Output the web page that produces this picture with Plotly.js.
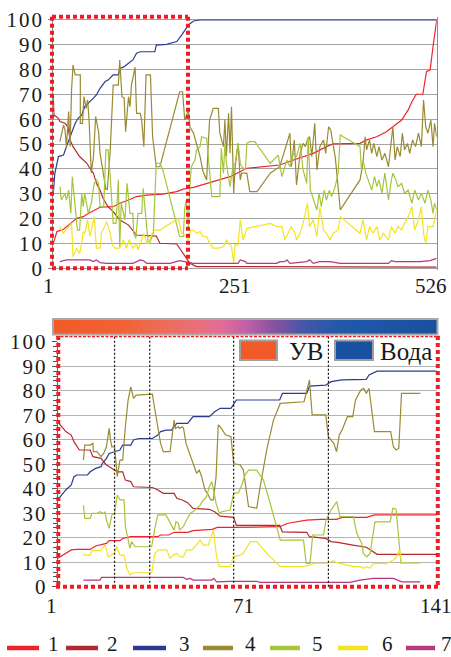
<!DOCTYPE html>
<html><head><meta charset="utf-8">
<script src="https://cdn.plot.ly/plotly-3.0.1.min.js"></script>
<style>html,body{margin:0;padding:0;background:#fff;overflow:hidden}#chart{width:451px;height:657px}
.ytick text,.y2tick text{letter-spacing:2px}</style>
</head><body><div id="chart"></div>
<script>
// ---------- DATA: top chart (samples 1..526) ----------
const topTickVals = [1, 251, 526];
const topTickText = ['1', '251', '526'];
const t1x = [1,6,15,19,26,33,42,49,58,65,83,92,104,115,129,151,170,179,193,211,229,243,266,289,311,330,357,375,384,421,430,444,457,466,478,487,492,498,507,512,517,521,523,526];
const t1y = [10.1,14.8,15.7,16.8,18.4,20.1,20.8,22.1,23.5,24.6,24.8,26.2,27.5,28.9,29.5,29.9,30.9,31.9,32.6,34.2,35.6,36.9,40.3,40.9,41.6,43.6,46.3,49,50.1,50.3,51.7,53,55,57,59.7,63.8,67.1,70.1,70.1,79.2,79.9,89.3,94.6,100];
const t2x = [1,2,8,10,17,21,24,28,37,47,51,56,60,65,69,76,83,92,104,110,115,142,147,170,174,181,188,197,526];
const t2y = [69.1,61.7,60.4,59.1,58.4,57,51.7,49,45,42.3,40.3,38.3,34.2,31.5,28.2,24.8,22.8,19.5,17.4,15.4,13.4,13,10.1,9.8,8.1,4.7,2,0.7,0.5];
const t3x = [1,3,8,15,19,26,31,35,40,44,49,56,60,65,72,76,83,90,92,97,104,110,115,120,140,142,156,170,177,181,186,193,202,526];
const t3y = [30,38,45,45.6,49,54.4,58.4,60.4,61.7,65.1,66.4,68.5,69.8,72.5,75.2,75.8,77.9,77.9,80.5,81,82.6,83.9,86.6,87.2,87.2,89.9,90.2,91.3,94,96,98,99.6,100,100];
const t4x = [10,15,17,19,22,24,26,28,31,38,38,41,43,46,48,50,53,56,59,63,65,69,73,75,79,83,90,92,95,98,100,104,106,108,113,115,120,122,125,128,134,137,142,147,174,178,181,186,188,193,197,202,206,211,213,215,220,227,229,234,236,238,241,243,245,248,250,254,257,259,266,270,280,298,311,321,325,327,331,334,339,343,346,349,352,355,359,362,366,371,374,378,381,383,387,394,421,425,428,430,434,437,440,444,447,451,455,460,464,466,469,472,476,479,482,486,489,493,497,501,505,508,511,514,518,521,523,526];
const t4y = [51,57.7,55.7,49,63.1,49,71.8,81.9,77.9,77.9,58.4,58.4,69.1,64.4,67.8,59.7,38.3,45,61.1,55,46.3,39.6,31.8,31.8,47.7,73.8,73.8,83.9,69.1,68.5,55,69.1,65.1,73.8,81,62.4,62.4,59.7,49,77.9,77.9,53,40.9,40.9,71.1,71.1,59.7,63.8,57,54.4,50.3,45,39,35.6,49,59.7,64.4,64.4,54.4,49,59.7,45,62.4,46.3,65.1,30.2,40.9,50.3,35.6,38.3,38.3,30.9,30.9,38.3,40.9,50.3,54.4,40.9,51.7,33.6,46.3,50.3,49,51.7,53,45,58.4,39.6,49,51.7,46.3,57,55.7,51.7,45,23.5,35.6,42.3,53,47.7,51.7,46.3,50.3,45,49,43.6,46.3,40.9,50.3,57,43.6,49,45,54.4,47.7,50.3,46.3,51.7,49,54.4,49,67.8,57,54.4,59.7,49,58.4,53];
const t5x = [10,12,17,19,22,25,27,29,32,34,37,40,42,44,49,53,57,60,63,65,70,73,76,79,83,87,90,92,94,99,102,106,110,111,114,117,122,124,128,131,133,138,142,147,151,174,179,181,183,186,188,190,195,197,202,204,211,215,218,229,231,234,236,238,243,247,250,254,257,259,264,266,270,277,298,309,314,321,325,330,334,339,343,348,350,353,357,362,365,368,372,375,379,382,387,391,394,421,423,425,429,432,437,441,444,447,451,455,460,464,466,470,473,478,482,487,492,496,501,505,510,514,518,521,523,526];
const t5y = [32.9,27.5,30.2,27.5,31.5,22.1,36.9,30.2,19.5,15.4,15.4,30.2,24.8,30.2,22.1,26.2,34.2,35.6,34.2,24.8,24.8,47.7,47.7,36.9,18.1,18.1,35.6,8.7,26.2,19.5,34.2,22.1,22.1,14.1,12.1,22.1,22.1,32.2,19.5,10.1,10.1,14.1,42.3,42.3,39.6,12.8,12.8,24.2,27.5,16.8,32.9,40.9,43.6,47.7,49,53,52.3,39.6,28.9,28.9,48.3,38.3,50.3,42.3,32.9,40.9,42.3,50.3,42.3,40.9,39.6,50.3,51,51,42.3,45.6,36.9,43.6,40.9,46.3,45,50.3,39.6,34.2,53,31.5,27.5,23.5,30.2,24.8,31.5,27.5,31.5,28.9,32.9,38.3,53.7,49,39.6,43.6,38.3,35.6,31.5,36.9,32.9,35.6,30.2,38.3,27.5,35.6,38.3,35.6,32.9,34.2,30.2,31.5,26.2,31.5,27.5,30.2,26.2,31.5,27.5,22.1,26.2,23.5];
const t6x = [10,15,18,22,26,28,33,37,40,42,44,48,51,53,57,60,65,67,69,74,79,82,85,92,97,101,105,108,110,115,117,122,125,129,132,136,140,147,172,177,181,186,189,193,197,202,206,211,215,220,227,234,238,245,248,250,254,257,261,266,298,307,314,318,323,327,332,334,339,343,349,352,357,362,366,371,375,380,384,391,394,421,425,430,434,439,444,448,453,460,464,469,473,478,482,487,492,496,501,505,508,511,514,521,526];
const t6y = [16.8,14.1,15.4,16.8,18.1,4.7,8.1,6,10.1,14.8,14.1,19.5,12.8,15.4,20.8,8.1,8.1,14.1,15.4,18.8,14.1,9.4,8.1,8.1,11.4,8.1,11.4,9.4,8.1,10.1,7.4,11.4,14.1,10.1,10.1,14.1,15.4,15.4,20.1,14.1,13.4,11.4,15.4,15.4,14.1,14.8,12.8,12.8,10.1,8.1,8.1,8.7,11.4,8.7,2,9.4,9.4,19.5,11.4,16.1,18.1,16.8,16.8,11.4,14.1,16.8,14.1,11.4,14.1,18.1,26.2,16.8,19.5,12.8,24.8,15.4,14.1,11.4,14.1,15.4,20.8,14.1,19.5,11.4,16.8,14.1,16.8,11.4,14.1,11.4,16.8,14.1,16.8,15.4,18.1,20.8,24.8,15.4,19.5,24.8,14.1,10.1,16.8,16.8,23.5];
const t7x = [10,19,51,56,60,65,74,110,120,124,129,161,174,183,193,254,257,264,266,307,311,318,321,325,348,352,357,366,380,394,460,464,469,503,517,526];
const t7y = [2.7,3.4,3.4,2.7,3.4,2.3,2,2,3.4,3.1,2,2,3.1,2.7,2,2,3.4,2.7,2,2,2.7,2.7,3.4,2,2.7,3.4,2,2.7,2.7,2,2,3.1,2.7,2.7,3.1,4];

// ---------- DATA: bottom chart (samples 1..141) ----------
const botTickVals = [1, 71, 141];
const botTickText = ['1', '71', '141'];
const dividerX = [22, 35, 66, 101];
const b1x = [1,3,4,6,8,13,15,17,19,20,24,25,28,38,39,42,44,49,51,58,60,66,83,86,93,98,104,106,115,118,141];
const b1y = [11.6,12.9,13.6,15,15.2,15.2,16.6,17,17.7,18.8,18.8,19.7,20.4,20.4,21.1,21.1,22.2,22.2,22.9,23.4,24.2,24.2,24.5,25.9,27.2,27.5,27.5,28.3,28.3,29.3,29.3];
const b2x = [1,2,3,4,6,7,9,13,14,17,18,19,22,23,25,26,28,29,36,38,40,44,45,47,49,51,57,59,61,66,67,83,84,93,94,100,102,105,110,115,119,141];
const b2y = [67.3,66,64.6,63.3,61.9,59.2,55.8,55.8,53.1,52.4,51,49.7,47.6,46.9,46.9,43.5,42.9,40.8,40.5,39.5,38.1,38.1,36.1,35.4,34.3,32,31.6,30.6,28.8,28.3,25,25,22.4,22.2,20.4,19.7,18.4,18,17,16.1,13.2,13.2];
const b3x = [1,2,3,4,6,7,8,12,13,15,17,17.5,19,20,22,24,25,28,29,31,36,38,39,41,43,44,45,49,51,57,59,61,65,67,83,84,93,94,100,102,106,115,116,119,141];
const b3y = [35.4,36.7,38.1,39.5,41.5,44.9,45.6,45.6,46.9,48.3,49,50.3,52.4,54.4,55.1,55.8,57.8,57.8,59.9,60.5,60.5,61.9,63.3,63.9,63.9,65.3,66.7,66.7,69.4,69.4,71.4,72.8,72.8,76.2,76.2,78.9,78.9,81.9,82.3,83.7,84.4,84.6,86.4,88,88];
const b4x = [10.5,11,13,14,14.2,15.5,17,18,19,20,20.5,21,22,23,24,25,26,27,28,29,30,36,36.3,38,39,40,42.5,44,44.5,45.6,46,47,47.5,48.4,49.3,50.5,51.3,52.3,53.3,54.2,55.4,56.3,57.5,58.5,59.5,60.3,61,63,65,66,68.4,69.6,71.5,74.5,75.8,78.2,80.7,83.2,92,93,94,95,100,101,103,104,105,106,108,110,111,113,114,115,116,117,118,124,125,126,127,128,135];
const b4y = [51.7,57.8,57.8,58.5,55.1,55.1,53.1,54.4,57.1,64.6,59.9,57.1,57.1,44.9,51.7,51.7,65.3,76.2,81.6,76.9,78.2,78.6,76.2,63.9,58.5,55.1,55.1,68,64.6,65.3,64.6,65.3,64.6,58.5,55.8,51.7,49.7,46.3,47.6,44.9,39.5,38.1,35.4,35.4,44.9,66,65.3,62,61.2,50.3,49.7,47.6,32.7,32,40.8,55.8,68,74.8,75.5,80.3,84.4,70.1,70.1,61.2,58.5,55.1,61.9,63.9,69.4,69.4,76.2,80.3,81,78.9,81,72.1,63.3,63.3,57.1,55.8,56.5,78.9,78.9];
const b5x = [10.5,11,13,13.6,15.4,16.6,18,18.5,19,20,21,22,23,24,25.5,26,27.7,28.3,29.6,35.7,37,38,41,42.5,44,44.7,45.6,46,47.4,48.6,50,51.7,53.6,54.8,56,57,57.9,58.7,59.5,60.7,61.6,64.7,66,67.8,69,70.2,71.5,74.5,77,79.5,82,83.2,91.8,92.8,94.2,95.2,99.2,100.1,101.6,104.1,105.3,110.2,111.5,113.3,113.9,115.2,116.4,117.6,118.2,123.8,124.8,126,126.9,127.8,134.9];
const b5y = [33.3,27.9,27.9,29.9,29.9,30.6,29.9,30.6,27.2,23.8,29.3,29.9,37.4,35.4,35.4,24.5,15.6,18.4,16.3,16.3,24.5,29.3,29.3,25.9,23.1,26.5,25.9,23.1,24.5,27.2,29.9,31.3,33.3,35.4,36.7,40.8,42.9,38.8,34,29.9,30.6,31.3,38.1,38.4,41.5,45.6,47.6,47.6,43.5,34,24.5,19,19,9.5,9.5,21.1,21.1,27.2,30.6,34.7,28.6,28.6,21.8,17.7,13.6,12.2,13.6,21.8,26.5,26.5,32,31.6,21.8,9.5,9.5];
const b6x = [10.5,11,13,13.6,16.6,18.5,19.7,20.9,21.9,22.8,24,25.5,26.5,27.7,28.9,35.7,36.9,38.2,41.3,42.5,43.7,45,46.2,47.4,48.6,50.5,51.7,53.6,54.8,56.6,58.5,59.7,60.7,64.7,65.9,68.4,69.6,72.1,74.5,78.2,83.2,91.8,94.2,95.5,100.4,102.9,104.1,105.3,107.8,110.2,112.7,113.9,115.2,116.4,117.6,122.6,125,126.2,127.2,128.1,134.9];
const b6y = [13.6,12.9,12.9,14.7,14.7,17,12.2,12.9,13.6,16.3,12.9,12.9,7.5,4.8,5.7,5.7,13.6,15,15,11.6,12.9,13.6,12.2,12.2,15,15,16.3,19,17,17,23.1,12.2,8.2,8.2,12.2,12.9,13.6,18.4,18.4,13.6,8.2,8.2,8.8,9.5,9.5,10.6,9.8,9.5,8.8,8.2,8.2,7.5,8.2,7.5,9.5,9.5,10.9,12.2,15,9.5,9.5];
const b7x = [10.5,16.6,17.2,47.4,48.6,49.9,51.1,57.9,58.7,59.7,64.6,74.5,75.8,109,112.7,117.6,125,128.1,134.9];
const b7y = [2.7,2.7,3.8,3.8,3,3.4,2.7,2.7,3.4,2,2.2,2.2,1.8,1.8,2.7,3.4,3.4,2,2];

// ---------- legend labels / colours ----------
const seriesNames = ['1', '2', '3', '4', '5', '6', '7'];
const seriesColors = ['#f0232b', '#b22a30', '#2c3a92', '#9a8a32', '#a6c53b', '#f3e423', '#b23a7d'];
const phaseNames = ['УВ', 'Вода'];
const phaseColors = ['#f15a29', '#1a50a0'];
const barScale = [[0,'#f15a29'],[0.17,'#f16135'],[0.25,'#ef6a4c'],[0.38,'#e9707e'],[0.44,'#e06c98'],[0.5,'#c262a8'],[0.57,'#8a52a0'],[0.66,'#4057a8'],[0.75,'#1f5aa8'],[1,'#1a4f9e']];

// ---------- layout helpers (pixel -> paper) ----------
const W = 451, H = 657;
const PX = v => v / W, PY = v => 1 - v / H;
const SERIF = 'Liberation Serif, Times New Roman, serif';
const RED = '#ee1c24';
const INK = '#1a1a1a';

const topX = [t1x,t2x,t3x,t4x,t5x,t6x,t7x], topY = [t1y,t2y,t3y,t4y,t5y,t6y,t7y];
const botX = [b1x,b2x,b3x,b4x,b5x,b6x,b7x], botY = [b1y,b2y,b3y,b4y,b5y,b6y,b7y];

const traces = [];
traces.push({type:'heatmap', x:[0,1], y:[0,1], z:[[0,1],[0,1]], colorscale:barScale, zsmooth:'best', showscale:false, xaxis:'x3', yaxis:'y3', hoverinfo:'skip'});
for (let k = 0; k < 7; k++) {
  traces.push({type:'scatter', mode:'lines', x:topX[k], y:topY[k], xaxis:'x', yaxis:'y', line:{color:seriesColors[k], width:1.2}, hoverinfo:'skip'});
}
for (let k = 0; k < 7; k++) {
  traces.push({type:'scatter', mode:'lines', x:botX[k], y:botY[k], xaxis:'x2', yaxis:'y2', line:{color:seriesColors[k], width:1.2}, hoverinfo:'skip'});
}

const shapes = [];
const annotations = [];
const dotted = (x0,y0,x1,y1,w,d) => ({type:'line', xref:'paper', yref:'paper', x0:PX(x0), y0:PY(y0), x1:PX(x1), y1:PY(y1), line:{color:RED, width:w, dash:d}, layer:'above'});
// top red dotted frame
shapes.push(dotted(52,16.7,188,16.7,4,'4px,3px'));
shapes.push(dotted(52,268.3,188,268.3,4,'4px,3px'));
shapes.push(dotted(52,16.7,52,268.3,4,'4px,3px'));
shapes.push(dotted(188,16.7,188,268.3,4,'4px,3px'));
// bottom vertical dividers
dividerX.forEach(xv => shapes.push({type:'line', xref:'x2', yref:'paper', x0:xv, x1:xv, y0:PY(586.7), y1:PY(334), line:{color:'#111', width:1.2, dash:'2px,2px'}, layer:'above'}));
// bottom red frame
shapes.push(dotted(56,336.5,440,336.5,1.6,'3px,1.5px'));
shapes.push(dotted(58.3,336,58.3,588,4,'4px,3px'));
shapes.push(dotted(56,586.7,440,586.7,4,'4px,3px'));
shapes.push(dotted(437.8,336,437.8,588,4,'4px,3px'));
// colour bar border
shapes.push({type:'rect', xref:'paper', yref:'paper', x0:PX(53), x1:PX(437.5), y0:PY(334.5), y1:PY(319), line:{color:'#a9a9a9', width:2}, layer:'above'});
// phase legend (УВ / Вода)
const phaseBox = [[240,277],[335,373]], phaseText = [287, 378];
for (let i = 0; i < 2; i++) {
  shapes.push({type:'rect', xref:'paper', yref:'paper', x0:PX(phaseBox[i][0]), x1:PX(phaseBox[i][1]), y0:PY(360), y1:PY(340.5), fillcolor:phaseColors[i], line:{color:'#9f9f9f', width:2}, layer:'above'});
  annotations.push({xref:'paper', yref:'paper', x:PX(phaseText[i]), y:PY(351), xanchor:'left', yanchor:'middle', text:phaseNames[i], showarrow:false, font:{family:SERIF, size:25, color:INK}});
}
// series legend along the bottom
const legLine = [[7,39],[66,98],[133,166],[203,233],[270,300],[338,368],[406,435]];
const legText = [47,106,178,244,311,381,440];
for (let k = 0; k < 7; k++) {
  shapes.push({type:'line', xref:'paper', yref:'paper', x0:PX(legLine[k][0]), x1:PX(legLine[k][1]), y0:PY(648), y1:PY(648), line:{color:seriesColors[k], width:4.5}});
  annotations.push({xref:'paper', yref:'paper', x:PX(legText[k]), y:0, xanchor:'left', yanchor:'bottom', borderpad:0, text:seriesNames[k], showarrow:false, font:{family:SERIF, size:21, color:INK}});
}
// x tick labels (drawn as annotations so the edge labels stay visible)
const topShift = [-5, -1, -6], botShift = [-6, -4, -1];
topTickVals.forEach((v, i) => annotations.push({xref:'x', yref:'paper', x:v, y:PY(286), xanchor:'center', yanchor:'middle', xshift:topShift[i], text:topTickText[i], showarrow:false, font:{family:SERIF, size:21, color:INK}}));
botTickVals.forEach((v, i) => annotations.push({xref:'x2', yref:'paper', x:v, y:PY(606), xanchor:'center', yanchor:'middle', xshift:botShift[i], text:botTickText[i], showarrow:false, font:{family:SERIF, size:21, color:INK}}));

const tickFont = {family:SERIF, size:21, color:INK};
const layout = {
  width:W, height:H, margin:{l:0,r:0,t:0,b:0}, autosize:false,
  paper_bgcolor:'#fff', plot_bgcolor:'#fff', showlegend:false, hovermode:false,
  xaxis:{domain:[PX(53.3),PX(436.7)], range:[1,526], anchor:'y', showticklabels:false, showgrid:false, zeroline:false, showline:false, ticks:''},
  yaxis:{domain:[PY(269.8),PY(17)], range:[-0.6,101.2], anchor:'x', tick0:0, dtick:10, showgrid:true, gridcolor:'#a3a3a3', gridwidth:1, zeroline:false, showline:true, linecolor:'#8c8c8c', mirror:true, ticks:'outside', ticklen:4, tickcolor:'#8c8c8c', tickfont:tickFont},
  xaxis2:{domain:[PX(57.7),PX(436.7)], range:[1,141], anchor:'y2', showticklabels:false, showgrid:false, zeroline:false, showline:false, ticks:''},
  yaxis2:{domain:[PY(586.7),PY(341.7)], range:[0,100], anchor:'x2', tick0:0, dtick:10, showgrid:true, gridcolor:'#b4b4b4', gridwidth:1.2, zeroline:false, showline:true, linecolor:'#666', ticks:'outside', ticklen:5, tickcolor:'#555', tickfont:tickFont, minor:{dtick:2, ticks:'outside', ticklen:4, tickcolor:'#555', showgrid:false}},
  xaxis3:{domain:[PX(53.3),PX(437)], range:[0,1], anchor:'y3', visible:false, fixedrange:true},
  yaxis3:{domain:[PY(334),PY(320)], range:[0,1], anchor:'x3', visible:false, fixedrange:true},
  shapes:shapes, annotations:annotations
};
Plotly.newPlot('chart', traces, layout, {displayModeBar:false, staticPlot:true});
</script></body></html>
